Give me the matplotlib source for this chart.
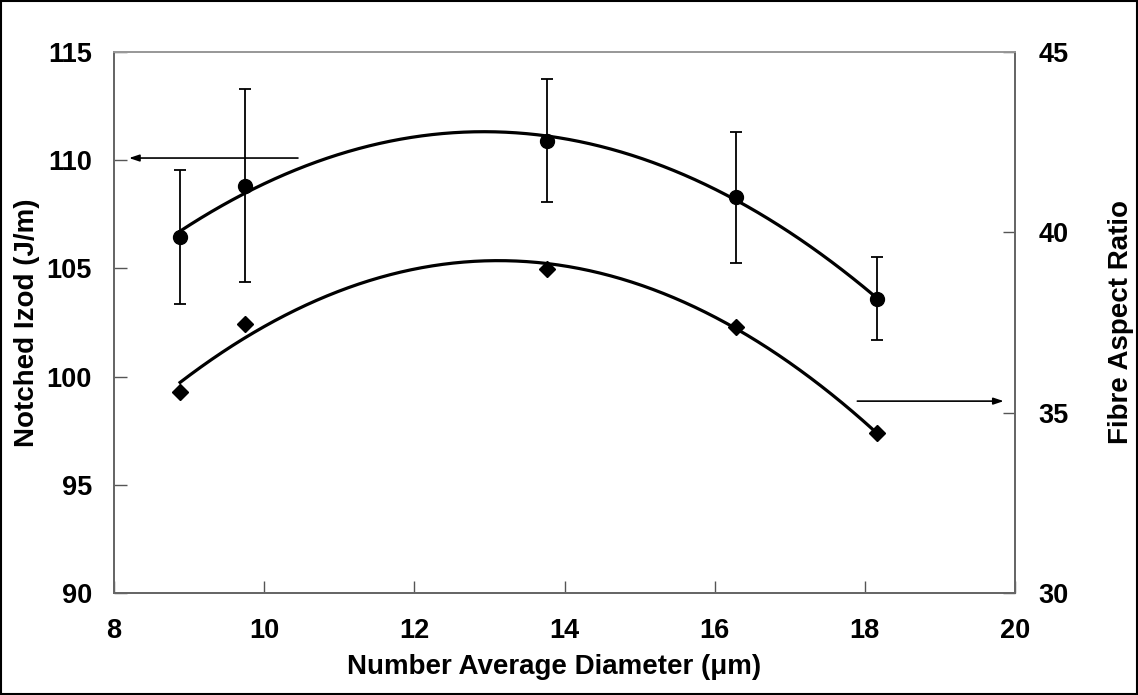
import numpy as np
import matplotlib
matplotlib.use("Agg")
import matplotlib.pyplot as plt
from matplotlib.patches import Rectangle

plt.rcParams["font.family"] = ["Liberation Sans", "DejaVu Sans"]
plt.rcParams["font.weight"] = "bold"

# number average diameter of the fibres (um)
diameter = [8.88, 9.74, 13.77, 16.29, 18.16]
# notched Izod impact strength (J/m) and its spread
izod = [106.47, 108.82, 110.91, 108.28, 103.60]
izod_err = [3.10, 4.47, 2.84, 3.04, 1.93]
# fibre aspect ratio (right axis)
aspect = [35.56, 37.45, 38.97, 37.38, 34.44]

x_ticks = [8, 10, 12, 14, 16, 18, 20]
izod_ticks = [90, 95, 100, 105, 110, 115]
aspect_ticks = [30, 35, 40, 45]


def quad_trend(x, y, n=200):
    coef = np.polyfit(x, y, 2)
    xs = np.linspace(min(x), max(x), n)
    return xs, np.polyval(coef, xs)


fig = plt.figure(figsize=(11.38, 6.95), dpi=100)
ax = fig.add_axes([114 / 1138, 1 - 593 / 695, 901 / 1138, 541 / 695])
ax2 = ax.twinx()

# Izod points with error bars and 2nd order trend line
ax.errorbar(diameter, izod, yerr=izod_err, fmt="o", color="black", ms=10,
            elinewidth=1.3, capsize=4, capthick=1.3, zorder=3)
xs, ys = quad_trend(diameter, izod)
ax.plot(xs, ys, color="black", lw=2.3, zorder=2)

# aspect ratio points on the secondary axis
ax2.plot(diameter, aspect, "D", color="black", ms=8, zorder=3)
xs, ys = quad_trend(diameter, aspect)
ax2.plot(xs, ys, color="black", lw=2.3, zorder=2)

ax.set_xlim(8, 20)
ax.set_ylim(90, 115)
ax2.set_ylim(30, 45)
ax.set_xticks(x_ticks)
ax.set_yticks(izod_ticks)
ax2.set_yticks(aspect_ticks)

tick_font = dict(labelsize=19.5)
ax.tick_params(axis="x", direction="in", length=9, width=1, pad=18,
               colors="#555555", labelcolor="black", **tick_font)
ax.tick_params(axis="y", direction="in", length=9, width=1, pad=16,
               colors="#555555", labelcolor="black", **tick_font)
ax2.tick_params(axis="y", direction="in", length=9, width=1, pad=17,
                colors="#555555", labelcolor="black", **tick_font)
for lbl in ax.get_xticklabels() + ax.get_yticklabels() + ax2.get_yticklabels():
    lbl.set_fontweight("bold")

for a in (ax, ax2):
    for side, sp in a.spines.items():
        sp.set_color("#666666")
        sp.set_linewidth(1.3)
    a.spines["top"].set_color("#999999")

ax.set_xlabel("Number Average Diameter (\u03bcm)", fontsize=20, fontweight="bold")
ax.set_ylabel("Notched Izod (J/m)", fontsize=20, fontweight="bold")
ax2.set_ylabel("Fibre Aspect Ratio", fontsize=20, fontweight="bold")
ax.xaxis.set_label_coords(0.488, -0.113)
ax.yaxis.set_label_coords(-0.082, 0.5)
ax2.yaxis.set_label_coords(1.103, 0.5)

# arrows pointing each curve to its axis
arrow = dict(arrowstyle="-|>,head_length=0.6,head_width=0.2", color="black", lw=1.2,
             shrinkA=0, shrinkB=0)
ax.annotate("", xy=(8.2, 110.1), xytext=(10.45, 110.1), arrowprops=arrow)
ax2.annotate("", xy=(19.85, 35.32), xytext=(17.9, 35.32), arrowprops=arrow)

# outer frame
fig.patches.append(Rectangle((0.001, 0.0015), 0.998, 0.997, transform=fig.transFigure,
                             fill=False, edgecolor="black", lw=1.5))

fig.savefig("out.png", dpi=100, facecolor="white")
